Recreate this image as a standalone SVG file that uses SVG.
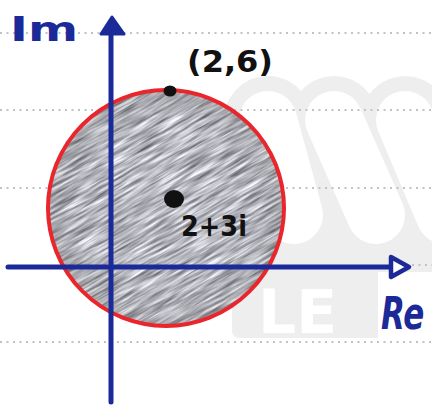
<svg xmlns="http://www.w3.org/2000/svg" width="432" height="408" viewBox="0 0 432 408">
  <style>
    .dots { stroke: #b9c4cc; stroke-width: 2; stroke-dasharray: 2 4.5; fill: none; }
    .axis { stroke: #1b2a98; stroke-width: 5; fill: none; stroke-linecap: round; }
    .ink { font-family: "DejaVu Sans", "Liberation Sans", sans-serif; font-weight: bold; }
    .blue { fill: #1b2a98; }
    .black { fill: #111111; }
    .wmg { stroke: #eeeeee; stroke-width: 88; stroke-linecap: round; }
    .wmw { stroke: #ffffff; stroke-width: 58; stroke-linecap: round; }
  </style>
  <defs>
    <filter id="grain" x="0" y="0" width="100%" height="100%" color-interpolation-filters="sRGB">
      <feTurbulence type="fractalNoise" baseFrequency="0.03 0.4" numOctaves="3" seed="7"/>
      <feColorMatrix type="matrix" values="0.95 0 0 0 0.24  0.95 0 0 0 0.24  0.95 0 0 0 0.27  0 0 0 0 1"/>
    </filter>
    <clipPath id="discClip">
      <circle cx="166" cy="208" r="118"/>
    </clipPath>
    <radialGradient id="edge" cx="0.5" cy="0.5" r="0.5">
      <stop offset="0.7" stop-color="#444" stop-opacity="0"/>
      <stop offset="1" stop-color="#444" stop-opacity="0.16"/>
    </radialGradient>
  </defs>

  <rect width="432" height="408" fill="#ffffff"/>

  <!-- watermark -->
  <g id="watermark">
    <path d="M232,170 H432 V272 H378 V338 H240 Q232,338 232,330 Z" fill="#eeeeee"/>
    <line class="wmg" x1="268" y1="120" x2="294" y2="215"/>
    <line class="wmg" x1="334" y1="120" x2="376" y2="215"/>
    <line class="wmg" x1="405" y1="120" x2="445" y2="215"/>
    <line class="wmw" x1="268" y1="120" x2="294" y2="215"/>
    <line class="wmw" x1="334" y1="120" x2="376" y2="215"/>
    <line class="wmw" x1="405" y1="120" x2="445" y2="215"/>
    <text x="258" y="333" font-family="DejaVu Sans, sans-serif" font-weight="bold" font-size="60" fill="#ffffff">LE</text>
  </g>

  <!-- notebook dotted lines -->
  <g id="paper-lines">
    <line class="dots" x1="0" y1="33" x2="432" y2="33"/>
    <line class="dots" x1="0" y1="110" x2="432" y2="110"/>
    <line class="dots" x1="0" y1="188" x2="432" y2="188"/>
    <line class="dots" x1="412" y1="265" x2="432" y2="265"/>
    <line class="dots" x1="0" y1="342" x2="432" y2="342"/>
  </g>

  <!-- shaded disc -->
  <g id="disc">
    <g clip-path="url(#discClip)">
      <g transform="rotate(-30 166 208)">
        <rect x="6" y="48" width="320" height="320" filter="url(#grain)"/>
      </g>
    </g>
    <circle cx="166" cy="208" r="118" fill="url(#edge)"/>
    <circle cx="166" cy="208" r="118" fill="none" stroke="#e8262c" stroke-width="4"/>
  </g>

  <!-- axes -->
  <g id="connectors">
    <line class="axis" x1="111" y1="30" x2="111" y2="402"/>
    <polygon points="112,17 101,34 124,34" fill="#1b2a98" stroke="#1b2a98" stroke-width="3" stroke-linejoin="round"/>
    <line class="axis" x1="8" y1="267" x2="395" y2="267"/>
    <polygon points="391,257 409,267 391,277" fill="#ffffff" stroke="#1b2a98" stroke-width="4.5" stroke-linejoin="round"/>
  </g>

  <g id="label-im">
    <text class="ink blue" x="10" y="41" font-size="34" textLength="68" lengthAdjust="spacingAndGlyphs">Im</text>
  </g>
  <g id="label-re">
    <text class="ink blue" transform="translate(381,329) scale(1,1.45)" x="0" y="0" font-size="31" font-style="italic">Re</text>
  </g>

  <g id="point-top">
    <ellipse cx="170" cy="91" rx="6.5" ry="5.5" fill="#111111"/>
    <text class="ink black" x="187" y="72" font-size="30" textLength="86" lengthAdjust="spacingAndGlyphs">(2,6)</text>
  </g>

  <g id="point-center">
    <ellipse cx="174" cy="199" rx="10" ry="9" fill="#111111"/>
    <text class="ink black" x="181" y="236" font-size="28" textLength="66" lengthAdjust="spacingAndGlyphs">2+3i</text>
  </g>
</svg>
